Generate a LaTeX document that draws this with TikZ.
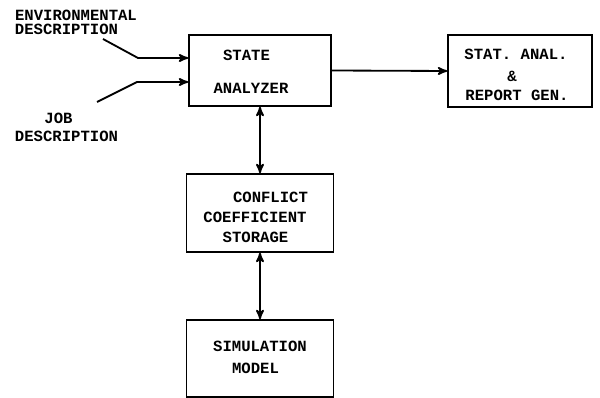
\documentclass[tikz,border=0pt]{standalone}
\usepackage{fontspec}
\setmonofont{Liberation Mono}
\usepackage{tikz}
\usetikzlibrary{arrows}

\begin{document}
\begin{tikzpicture}[x=0.025cm, y=0.025cm]
			\tikzstyle{every node}+=[inner sep=0pt, font=\ttfamily\bfseries\fontsize{11.1}{13}\selectfont]
			\tikzstyle{box}=[draw=black, line width=1.2pt, rectangle]
			\tikzstyle{link}=[black, line width=1.3pt]
			\useasboundingbox (0,0) rectangle (600,-398);
			\node [box, minimum width=3.55cm, minimum height=1.775cm] (state) at (260,-70.5) {};
			\node [box, minimum width=3.6cm, minimum height=1.8cm] (stat) at (520,-71) {};
			\node [box, minimum width=3.675cm, minimum height=1.95cm] (conflict) at (260,-213) {};
			\node [box, minimum width=3.675cm, minimum height=1.925cm] (sim) at (260,-358.5) {};
			\node (stateA) at (246.5,-55) {STATE};
			\node (stateB) at (251,-88) {ANALYZER};
			\node (statA) at (516,-54) {STAT. ANAL.};
			\node (statB) at (512,-76) {\&};
			\node (statC) at (517,-95) {REPORT GEN.};
			\node (confA) at (270.5,-197) {CONFLICT};
			\node (confB) at (255,-217) {COEFFICIENT};
			\node (confC) at (255.5,-237) {STORAGE};
			\node (simA) at (260,-346) {SIMULATION};
			\node (simB) at (255.5,-368) {MODEL};
			\node (envA) at (76,-15) {ENVIRONMENTAL};
			\node (envB) at (66.5,-29) {DESCRIPTION};
			\node (jobA) at (58.5,-118) {JOB};
			\node (jobB) at (66.5,-136) {DESCRIPTION};
			\coordinate (envstart) at (103,-39);
			\coordinate (envbend) at (138,-58);
			\coordinate (jobstart) at (97,-102);
			\coordinate (jobbend) at (137,-82);
			\draw [link, -stealth'] (envstart) -- (envbend) -- (envbend -| state.west);
			\draw [link, -stealth'] (jobstart) -- (jobbend) -- (jobbend -| state.west);
			\draw [link, -stealth'] (state.east) -- (stat.west);
			\draw [link, stealth'-stealth'] (state.south) -- (conflict.north);
			\draw [link, stealth'-stealth'] (conflict.south) -- (sim.north);
		\end{tikzpicture}
\end{document}
